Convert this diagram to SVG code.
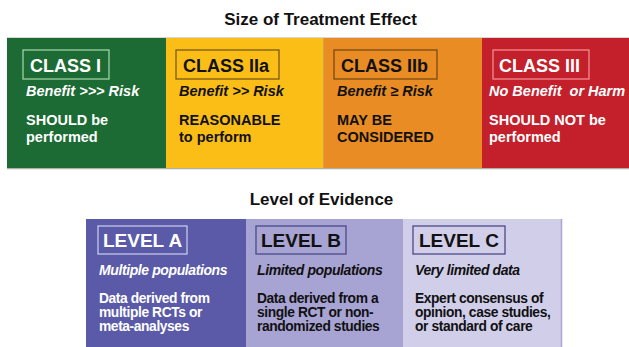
<svg xmlns="http://www.w3.org/2000/svg" width="629" height="347" viewBox="0 0 629 347">
<style>
text{font-family:"Liberation Sans",Arial,sans-serif;font-weight:bold}
.title{font-size:17px;fill:#111;text-anchor:middle}
.cls{font-size:18px}
.sub{font-size:14.5px;font-style:italic}
.body{font-size:14.5px}
.lvl{font-size:19px}
.lsub{font-size:14px;font-style:italic;letter-spacing:-0.4px}
.lbody{font-size:13.8px;letter-spacing:-0.4px}
.w{fill:#fff}
.k{fill:#111}
.box{fill:none;stroke-width:1.3}
</style>
<rect width="629" height="347" fill="#fff"/>
<text class="title" x="320.5" y="25">Size of Treatment Effect</text>
<line x1="7" y1="37.5" x2="629" y2="37.5" stroke="#d8d8d8" stroke-width="1"/>
<line x1="7" y1="168.5" x2="629" y2="168.5" stroke="#b0b0a8" stroke-width="1.5"/>
<g id="class1">
<rect x="7" y="38" width="159" height="130" fill="#1c6a34"/>
<rect class="box" x="23" y="50" width="86" height="29" stroke="#9fcfa5"/>
<text class="cls w" x="30" y="72">CLASS I</text>
<text class="sub w" x="26" y="96">Benefit &gt;&gt;&gt; Risk</text>
<text class="body w" x="26" y="125">SHOULD be</text>
<text class="body w" x="26" y="142">performed</text>
</g>
<g id="class2a">
<rect x="166" y="38" width="157" height="130" fill="#fbbe17"/>
<rect class="box" x="176" y="50" width="103" height="29" stroke="#7a5a14"/>
<text class="cls k" x="183" y="72">CLASS IIa</text>
<text class="sub k" x="179" y="96">Benefit &gt;&gt; Risk</text>
<text class="body k" x="179" y="125">REASONABLE</text>
<text class="body k" x="179" y="142">to perform</text>
</g>
<g id="class2b">
<rect x="323" y="38" width="159" height="130" fill="#e88c23"/>
<line x1="323.5" y1="38" x2="323.5" y2="168" stroke="#c9a64a" stroke-width="1"/>
<rect class="box" x="334" y="50" width="103" height="29" stroke="#7a4a14"/>
<text class="cls k" x="341" y="72">CLASS IIb</text>
<text class="sub k" x="337" y="96">Benefit ≥ Risk</text>
<text class="body k" x="337" y="125">MAY BE</text>
<text class="body k" x="337" y="142">CONSIDERED</text>
</g>
<g id="class3">
<rect x="482" y="38" width="147" height="130" fill="#c4202b"/>
<rect class="box" x="493" y="50" width="96" height="29" stroke="#f08a8f"/>
<text class="cls w" x="499" y="72">CLASS III</text>
<text class="sub w" x="489" y="96" xml:space="preserve">No Benefit  or Harm</text>
<text class="body w" x="489" y="125">SHOULD NOT be</text>
<text class="body w" x="489" y="142">performed</text>
</g>
<text class="title" x="321.5" y="205">Level of Evidence</text>
<g id="levelA">
<rect x="86" y="219" width="160" height="128" fill="#5a5aa8"/>
<rect class="box" x="98" y="226" width="89" height="28" stroke="#c6c6ea"/>
<text class="lvl w" x="103" y="247">LEVEL A</text>
<text class="lsub w" x="99" y="275">Multiple populations</text>
<text class="lbody w" x="99" y="303">Data derived from</text>
<text class="lbody w" x="99" y="317">multiple RCTs or</text>
<text class="lbody w" x="99" y="331">meta-analyses</text>
</g>
<g id="levelB">
<rect x="246" y="219" width="157" height="128" fill="#a7a3d3"/>
<rect class="box" x="256" y="226" width="90" height="28" stroke="#4a4a86"/>
<text class="lvl k" x="261" y="247">LEVEL B</text>
<text class="lsub k" x="257" y="275">Limited populations</text>
<text class="lbody k" x="257" y="303">Data derived from a</text>
<text class="lbody k" x="257" y="317">single RCT or non-</text>
<text class="lbody k" x="257" y="331">randomized studies</text>
</g>
<g id="levelC">
<rect x="403" y="219" width="159" height="128" fill="#d0cee9"/>
<line x1="561.5" y1="219" x2="561.5" y2="347" stroke="#a9a5d4" stroke-width="1.5"/>
<rect class="box" x="413" y="226" width="92" height="28" stroke="#4a4a86"/>
<text class="lvl k" x="419" y="247">LEVEL C</text>
<text class="lsub k" x="415" y="275">Very limited data</text>
<text class="lbody k" x="415" y="303">Expert consensus of</text>
<text class="lbody k" x="415" y="317">opinion, case studies,</text>
<text class="lbody k" x="415" y="331">or standard of care</text>
</g>
<g id="connectors"></g>
</svg>
